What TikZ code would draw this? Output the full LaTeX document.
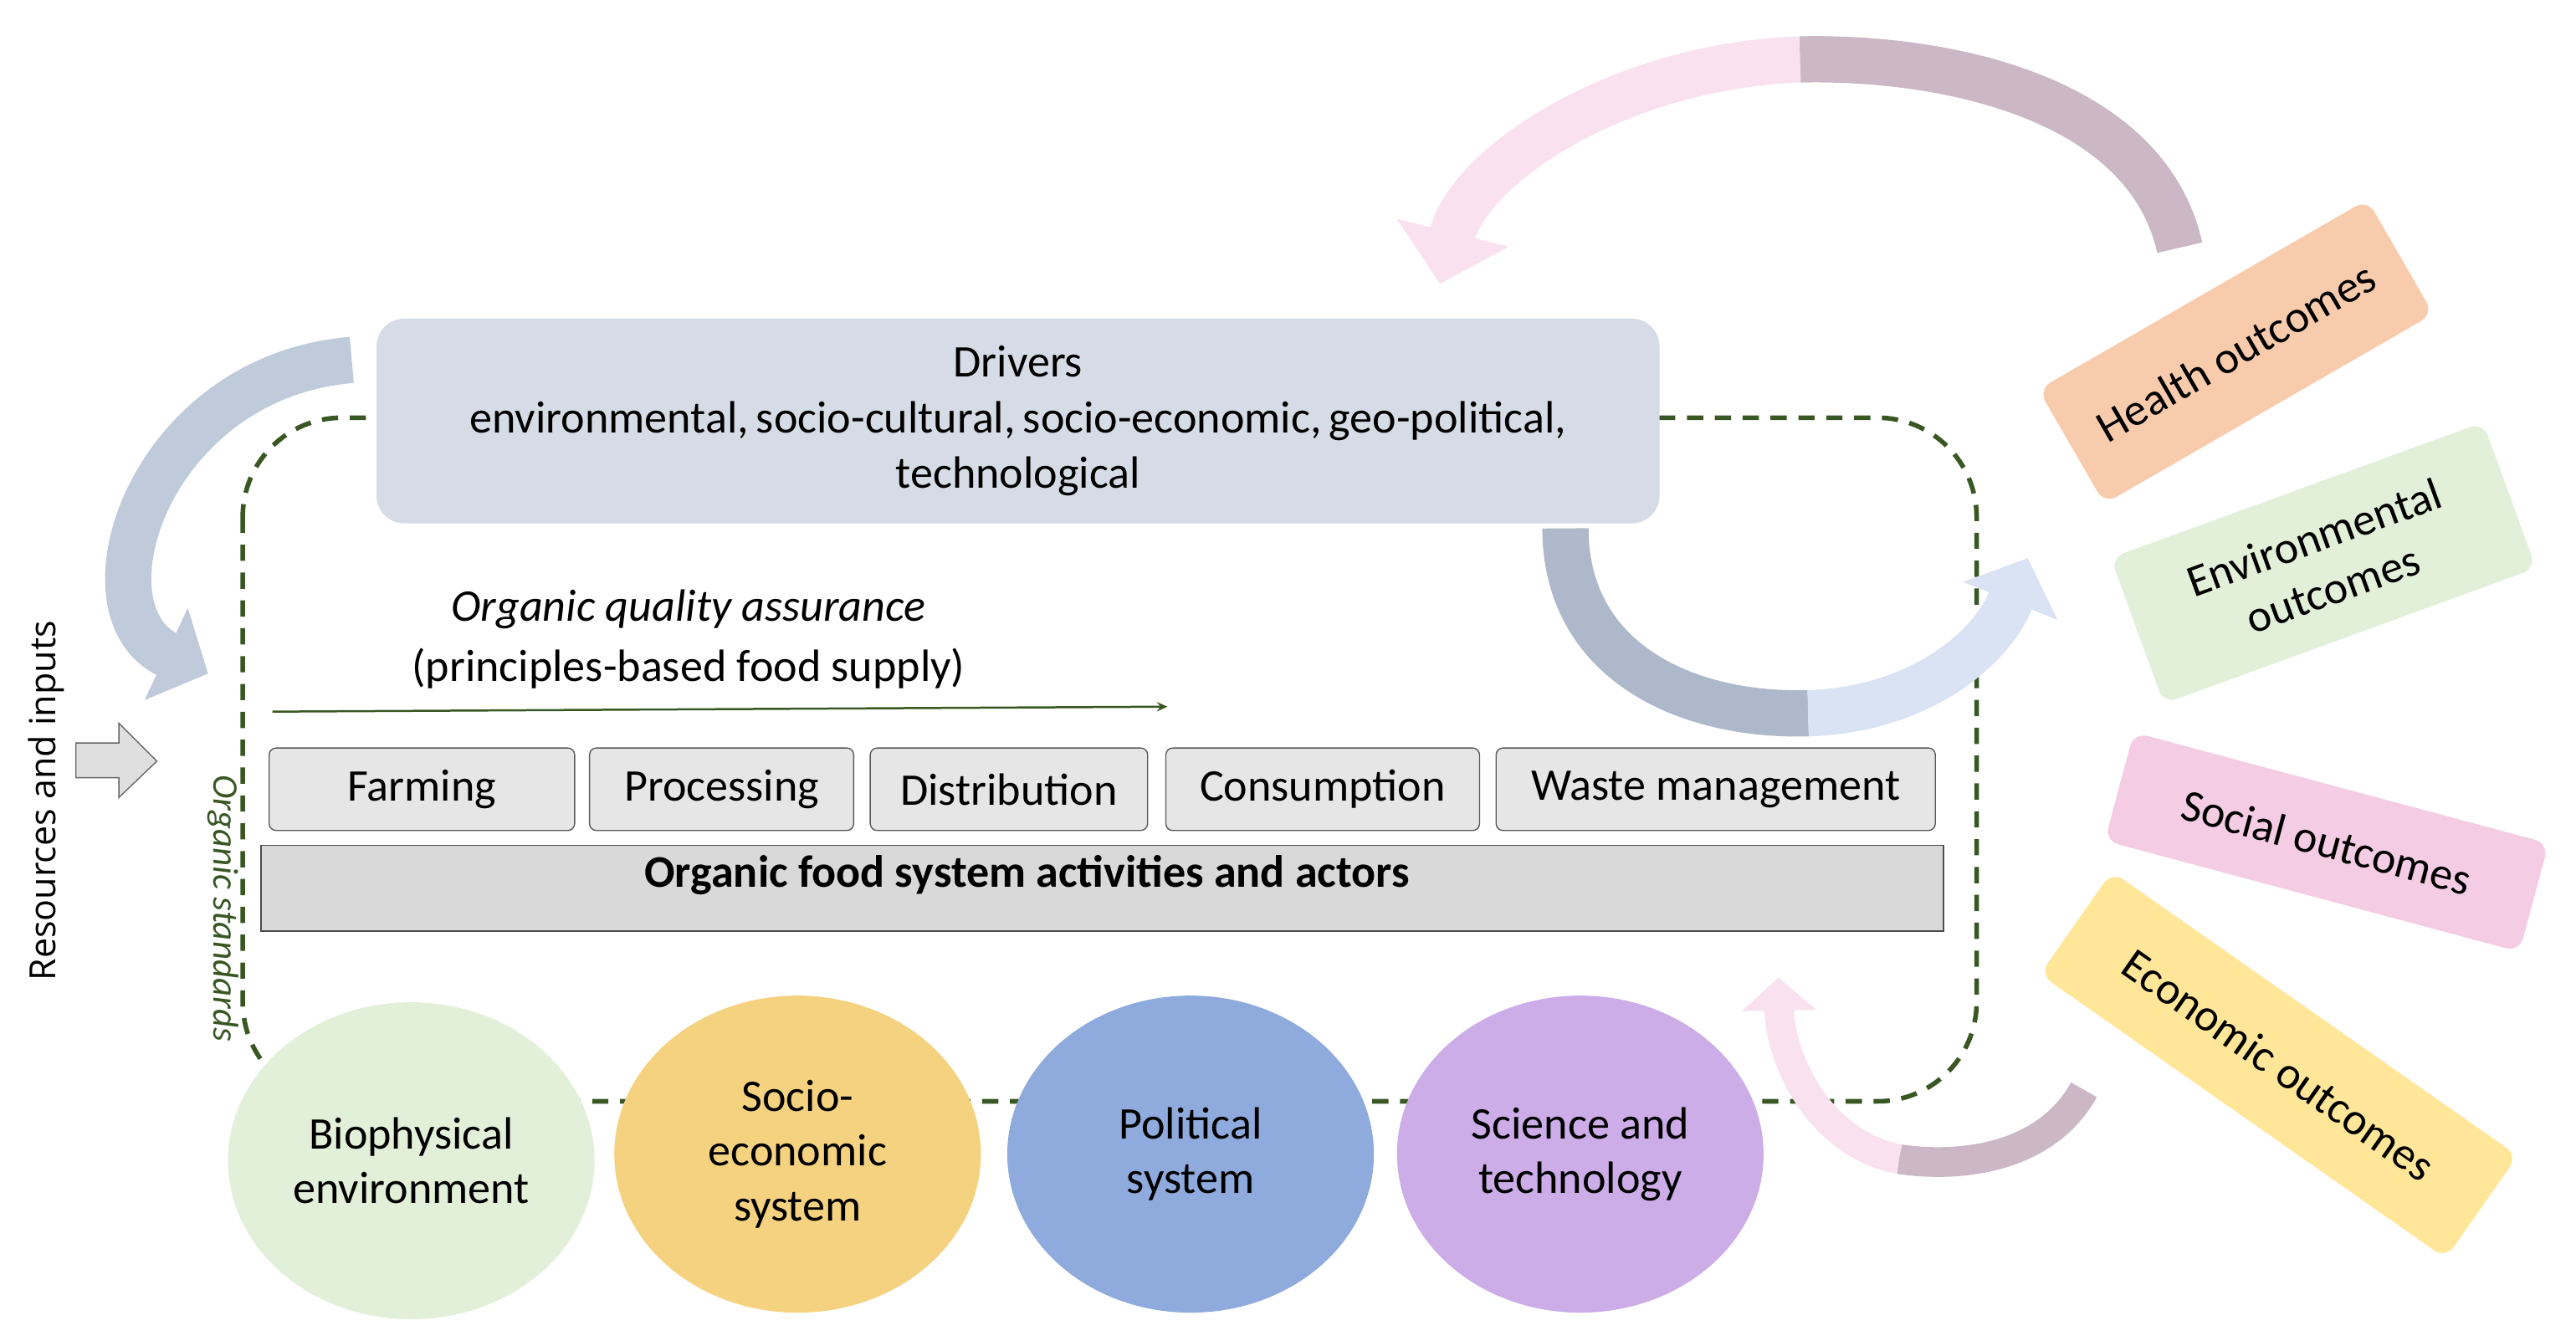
\documentclass[tikz,border=0pt]{standalone}
\usepackage{fontspec}
\setmainfont{Carlito}
\newfontfamily\resfont{Open Sans}
\usetikzlibrary{shapes.geometric,arrows.meta}
\definecolor{drv}{HTML}{D6DCE5}
\definecolor{dgreen}{HTML}{385723}
\definecolor{actf}{HTML}{E7E6E6}
\definecolor{barf}{HTML}{D9D9D9}
\definecolor{bioc}{HTML}{E2F0D9}
\definecolor{socc}{HTML}{F5D27F}
\definecolor{polc}{HTML}{8FAADC}
\definecolor{scic}{HTML}{CCADE8}
\definecolor{healc}{HTML}{F8CBAD}
\definecolor{envc}{HTML}{E2F0D9}
\definecolor{sococ}{HTML}{F4CCE3}
\definecolor{ecoc}{HTML}{FFE699}
\definecolor{bandA}{HTML}{ADB9CA}
\definecolor{bandB}{HTML}{DAE3F3}
\definecolor{mauve}{HTML}{CBB7C5}
\definecolor{lpink}{HTML}{F9E1EF}
\tikzset{
  txt/.style={font=\fontsize{39}{47}\selectfont, align=center},
  actbox/.style={txt, draw=gray!70!black, fill=actf, rounded corners=6pt, line width=1pt, minimum height=25mm, inner sep=0pt},
  circ/.style={ellipse, txt, minimum width=111mm, minimum height=96mm, inner sep=0pt},
  outbox/.style={txt, rounded corners=12pt, inner sep=0pt},
  band/.style={line width=14mm},
}
\begin{document}
\begin{tikzpicture}[x=0.5mm,y=-0.5mm]
\useasboundingbox (0,0) rectangle (1560,812);
% dashed frame
\draw[dgreen, line width=4pt, dash pattern=on 14pt off 10pt, rounded corners=30mm] (147,253) rectangle (1197,667);
% drivers
\node[txt, fill=drv, rounded corners=24pt, minimum width=388.5mm, minimum height=62mm, inner sep=0pt] (drv) at (616.5,255)
 {Drivers\\[1pt] environmental,\,socio-cultural,\,socio-economic,\,geo-political,\\[1pt] technological};
% quality assurance
\node[txt, font=\fontsize{39}{47}\selectfont\itshape] (oqa) at (417,369) {Organic quality assurance};
\node[txt] (pbf) at (417,405) {(principles-based food supply)};
\coordinate (qa1) at (165,431); \coordinate (qa2) at (707,428);
\draw[dgreen, line width=1.8pt, -{Stealth[length=9pt,width=8pt]}] (qa1) -- (qa2);
% activities
\node[actbox, minimum width=92.5mm] (farm) at (255.5,478) {Farming};
\node[actbox, minimum width=80mm] (proc) at (437,478) {Processing};
\node[actbox, minimum width=84mm] (dist) at (611,478) {Distribution};
\node[actbox, minimum width=95mm] (cons) at (801,478) {Consumption};
\node[actbox, minimum width=133mm] (waste) at (1039,478) {Waste management};
\node[draw=gray!60!black, fill=barf, line width=1pt, minimum width=509.5mm, minimum height=26mm, inner sep=0pt] (bar) at (667.5,538) {};
\node[txt, font=\fontsize{39}{47}\selectfont\bfseries] (bart) at (622,530) {Organic food system activities and actors};
% side texts
\node[txt, font=\fontsize{31}{36}\selectfont\itshape, text=dgreen, rotate=-90] (ostd) at (135,550) {Organic standards};
\node[font=\resfont\fontsize{31}{36}\selectfont, rotate=90] (res) at (28,485) {Resources and inputs};
\draw[gray!80!black, fill=gray!25, line width=1pt] (46,450) -- (72,450) -- (72,438) -- (95,461) -- (72,483) -- (72,471) -- (46,471) -- cycle;
% circles
\node[circ, fill=bioc] (bio) at (249,703) {Biophysical\\environment};
\node[circ, fill=socc] (soc) at (483,699) {Socio-\\economic\\system};
\node[circ, fill=polc] (pol) at (721,699) {Political\\system};
\node[circ, fill=scic] (sci) at (957,699) {Science and\\technology};
% outcomes
\node[outbox, fill=healc, rotate=30, minimum width=115mm, minimum height=40mm] (heal) at (1354,213) {Health outcomes};
\node[outbox, fill=envc, rotate=20, minimum width=120mm, minimum height=47mm] (env) at (1407,341) {Environmental\\outcomes};
\node[outbox, fill=sococ, rotate=-15, minimum width=130mm, minimum height=34mm] (socout) at (1409,510) {Social outcomes};
\node[outbox, fill=ecoc, rotate=-35, minimum width=150mm, minimum height=38mm] (eco) at (1380,645) {Economic outcomes};
% curved band arrows
\coordinate (la0) at (213,218); \coordinate (la1) at (126,408);
\draw[band, color=bandA!60!bandB, -{Triangle[length=14mm,width=30mm]}] (la0) .. controls (90,228) and (45,370) .. (la1);
\coordinate (ua0) at (948,320); \coordinate (ua1) at (1095,432); \coordinate (ua2) at (1228,338);
\draw[band, color=bandA] (ua0) .. controls (948,400) and (1020,434) .. (ua1);
\draw[band, color=bandB, -{Triangle[length=14mm,width=30mm]}] (ua1) .. controls (1160,430) and (1205,395) .. (ua2);
\coordinate (ta0) at (1320,150); \coordinate (ta1) at (1090,36); \coordinate (ta2) at (872,172);
\draw[band, color=mauve] (ta0) .. controls (1300,60) and (1180,34) .. (ta1);
\draw[band, color=lpink, -{Triangle[length=16mm,width=34mm]}] (ta1) .. controls (980,40) and (890,100) .. (ta2);
\coordinate (ba0) at (1262,660); \coordinate (ba1) at (1150,702); \coordinate (ba2) at (1077,592);
\draw[band, line width=9mm, color=mauve] (ba0) .. controls (1240,700) and (1190,708) .. (ba1);
\draw[band, line width=9mm, color=lpink, -{Triangle[length=10mm,width=22mm]}] (ba1) .. controls (1100,692) and (1078,640) .. (ba2);
\end{tikzpicture}
\end{document}
